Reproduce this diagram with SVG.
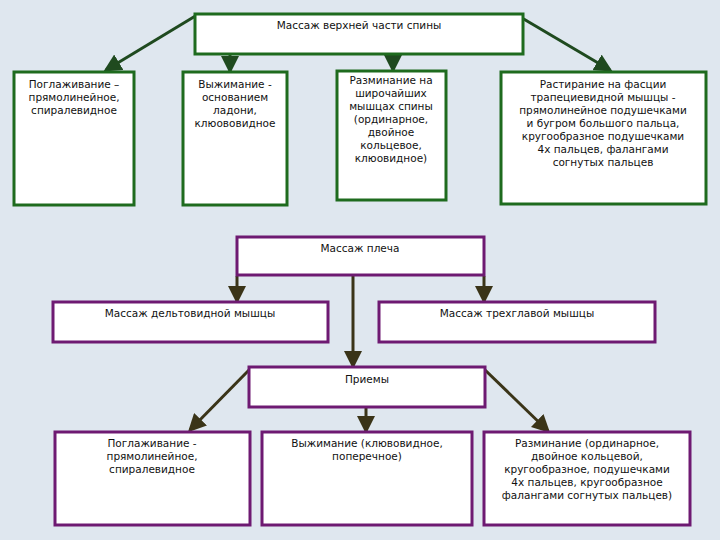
<svg xmlns="http://www.w3.org/2000/svg" width="720" height="540" viewBox="0 0 720 540">
<style>
.g{fill:#fff;stroke:#1e6b1e;stroke-width:3}
.p{fill:#fff;stroke:#6e1a72;stroke-width:3}
text{font-family:"DejaVu Sans",Verdana,sans-serif;font-size:10.5px;fill:#111;text-anchor:middle}
.cg{stroke:#1f4a1f;stroke-width:3;fill:none}
.cp{stroke:#3a3418;stroke-width:3;fill:none}
</style>
<defs>
<marker id="ag" markerWidth="6" markerHeight="6" refX="5" refY="3" orient="auto" markerUnits="strokeWidth"><path d="M0,0 L6,3 L0,6z" fill="#1f4a1f"/></marker>
<marker id="ap" markerWidth="6" markerHeight="6" refX="5" refY="3" orient="auto" markerUnits="strokeWidth"><path d="M0,0 L6,3 L0,6z" fill="#3a3418"/></marker>
</defs>
<rect width="720" height="540" fill="#dfe7ef"/>
<g id="connectors">
<path class="cg" d="M197,15 L106,70" marker-end="url(#ag)"/>
<path class="cg" d="M230,55 L230,71" marker-end="url(#ag)"/>
<path class="cg" d="M393,55 L393,70" marker-end="url(#ag)"/>
<path class="cg" d="M522,18 L610,70" marker-end="url(#ag)"/>
<path class="cp" d="M237,276 L237,301" marker-end="url(#ap)"/>
<path class="cp" d="M484,276 L484,301" marker-end="url(#ap)"/>
<path class="cp" d="M353,276 L353,366" marker-end="url(#ap)"/>
<path class="cp" d="M250,369 L190,430" marker-end="url(#ap)"/>
<path class="cp" d="M484,369 L548,431" marker-end="url(#ap)"/>
<path class="cp" d="M366,408 L366,431" marker-end="url(#ap)"/>
</g>
<g id="top"><rect class="g" x="195" y="14" width="328" height="40"/><text x="359" y="29">Массаж верхней части спины</text></g>
<g id="n1"><rect class="g" x="14" y="72" width="120" height="133"/><text x="74" y="88">Поглаживание –</text><text x="74" y="101">прямолинейное,</text><text x="74" y="114">спиралевидное</text></g>
<g id="n2"><rect class="g" x="183" y="72" width="104" height="133"/><text x="235" y="88">Выжимание -</text><text x="235" y="101">основанием</text><text x="235" y="114">ладони,</text><text x="235" y="127">клюововидное</text></g>
<g id="n3"><rect class="g" x="337" y="71" width="109" height="129"/><text x="391" y="84">Разминание на</text><text x="391" y="97">широчайших</text><text x="391" y="110">мышцах спины</text><text x="391" y="123">(ординарное,</text><text x="391" y="136">двойное</text><text x="391" y="149">кольцевое,</text><text x="391" y="162">клюовидное)</text></g>
<g id="n4"><rect class="g" x="501" y="72" width="205" height="132"/><text x="603" y="88">Растирание на фасции</text><text x="603" y="101">трапециевидной мышцы -</text><text x="603" y="114">прямолинейное подушечками</text><text x="603" y="127">и бугром большого пальца,</text><text x="603" y="140">кругообразное подушечками</text><text x="603" y="153">4х пальцев, фалангами</text><text x="603" y="166">согнутых пальцев</text></g>
<g id="shoulder"><rect class="p" x="237" y="237" width="247" height="38"/><text x="360" y="252">Массаж плеча</text></g>
<g id="delt"><rect class="p" x="53" y="302" width="275" height="40"/><text x="190" y="317">Массаж дельтовидной мышцы</text></g>
<g id="tri"><rect class="p" x="379" y="302" width="276" height="40"/><text x="517" y="317">Массаж трехглавой мышцы</text></g>
<g id="tech"><rect class="p" x="249" y="367" width="236" height="40"/><text x="367" y="383">Приемы</text></g>
<g id="b1"><rect class="p" x="55" y="432" width="195" height="93"/><text x="152" y="447">Поглаживание -</text><text x="152" y="460">прямолинейное,</text><text x="152" y="473">спиралевидное</text></g>
<g id="b2"><rect class="p" x="262" y="432" width="210" height="93"/><text x="367" y="447">Выжимание (клювовидное,</text><text x="367" y="460">поперечное)</text></g>
<g id="b3"><rect class="p" x="484" y="432" width="206" height="93"/><text x="587" y="447">Разминание (ординарное,</text><text x="587" y="460">двойное кольцевой,</text><text x="587" y="473">кругообразное, подушечками</text><text x="587" y="486">4х пальцев, кругообразное</text><text x="587" y="499">фалангами согнутых пальцев)</text></g>
</svg>
